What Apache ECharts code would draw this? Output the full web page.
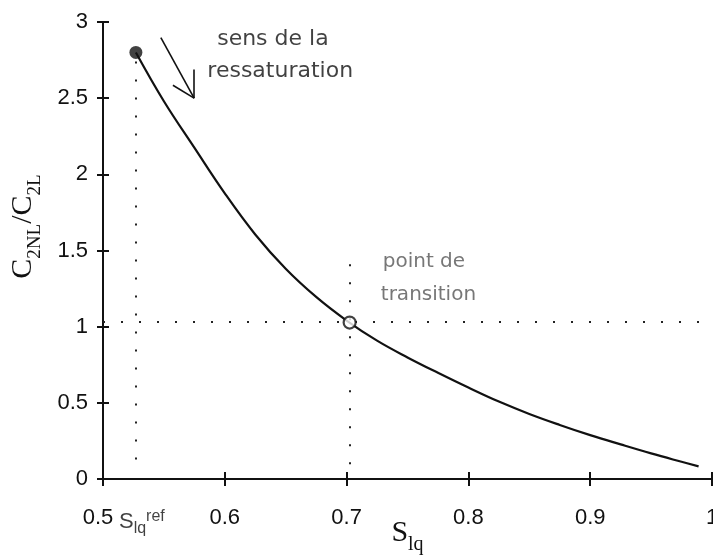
<!DOCTYPE html>
<html>
<head>
<meta charset="utf-8">
<script src="https://cdn.jsdelivr.net/npm/echarts@6/dist/echarts.min.js"></script>
<style>
html,body{margin:0;padding:0;background:#fff;}
#c{width:713px;height:556px;}
</style>
</head>
<body>
<div id="c"></div>
<script>
// ---- data ----
const curveX = [0.527,0.55,0.575,0.60,0.625,0.65,0.675,0.70,0.725,0.75,0.775,0.80,0.825,0.85,0.875,0.90,0.925,0.95,0.975,0.989];
const curveY = [2.80,2.48,2.175,1.875,1.605,1.38,1.195,1.04,0.908,0.798,0.697,0.600,0.508,0.427,0.355,0.288,0.227,0.168,0.113,0.083];
const refPoint = [0.527, 2.80];
const transitionPoint = [0.7025, 1.027];
const xTicks = [0.5, 0.6, 0.7, 0.8, 0.9, 1.0];
const yTicks = [0, 0.5, 1, 1.5, 2, 2.5, 3];
// annotation guides (data units)
const refGuide = [[0.527, 2.74], [0.527, 0.12]];
const transGuideV = [[0.7025, 1.41], [0.7025, 0]];
const transGuideH = [[0.5, 1.03], [1.0, 1.03]];
const arrowShaft = [[0.5475, 2.897], [0.5748, 2.50]];
const arrowHead1 = [[0.5574, 2.585], [0.5748, 2.50]];
const arrowHead2 = [[0.5746, 2.688], [0.5748, 2.50]];
const notes = [
  {text: 'sens de la', pos: [0.6395, 2.885], style: 'big'},
  {text: 'ressaturation', pos: [0.6455, 2.675], style: 'big'},
  {text: 'point de', pos: [0.7635, 1.423], style: 'light'},
  {text: 'transition', pos: [0.7672, 1.212], style: 'light'}
];
const refLabelPos = [0.5131, -0.285];

const chart = echarts.init(document.getElementById('c'), null, {renderer: 'canvas'});
const sans = '"Liberation Sans", Arial, sans-serif';
const serif = '"Liberation Serif", "Times New Roman", serif';
const black = '#111';

const dotted = {type: [2, 16], width: 2, color: '#222'};
const solidThin = {type: 'solid', width: 1.6, color: '#111'};

const option = {
  animation: false,
  backgroundColor: '#fff',
  grid: {left: 103, right: 1, top: 22, bottom: 77, containLabel: false, outerBoundsMode: 'none'},
  xAxis: [{
    type: 'value', min: xTicks[0], max: xTicks[xTicks.length-1], interval: 0.1,
    axisLine: {show: true, onZero: false, lineStyle: {color: black, width: 2}},
    axisTick: {show: true, inside: false, length: 7, lineStyle: {color: black, width: 2}},
    axisLabel: {show: true, margin: 28, fontSize: 22, color: '#111', fontFamily: sans,
      formatter: v => {
        const s = String(Math.round(v*10)/10);
        return v === xTicks[0] ? '{a|' + s + '}' : s;
      },
      rich: {a: {fontSize: 22, fontFamily: sans, color: '#111', padding: [0, 10, 0, 0]}}
    },
    splitLine: {show: false},
    name: '{m|S}{s|lq}',
    nameLocation: 'middle', nameGap: 32, nameMoveOverlap: false,
    nameTextStyle: {padding: [0, 0, 0, 0], rich: {
      m: {fontFamily: serif, fontSize: 30, color: '#111', lineHeight: 44, verticalAlign: 'middle'},
      s: {fontFamily: serif, fontSize: 20, color: '#111', lineHeight: 20, verticalAlign: 'bottom'}
    }}
  }, {
    type: 'value', min: xTicks[0], max: xTicks[xTicks.length-1], interval: 0.1, position: 'bottom',
    axisLine: {show: false}, axisLabel: {show: false}, splitLine: {show: false},
    axisTick: {show: true, inside: true, length: 7, lineStyle: {color: black, width: 2}}
  }],
  yAxis: [{
    type: 'value', min: yTicks[0], max: yTicks[yTicks.length-1], interval: 0.5,
    axisLine: {show: true, onZero: false, lineStyle: {color: black, width: 2}},
    axisTick: {show: true, inside: false, length: 6, lineStyle: {color: black, width: 2}},
    axisLabel: {show: true, margin: 15, fontSize: 22, color: '#111', fontFamily: sans},
    splitLine: {show: false},
    name: '{m|C}{s|2NL}{m|/C}{s|2L}',
    nameLocation: 'middle', nameGap: 58, nameRotate: 90, nameMoveOverlap: false,
    nameTextStyle: {padding: [0, 0, 0, 48], rich: {
      m: {fontFamily: serif, fontSize: 30, color: '#111', lineHeight: 44, verticalAlign: 'middle'},
      s: {fontFamily: serif, fontSize: 19, color: '#111', lineHeight: 20, verticalAlign: 'bottom'}
    }}
  }, {
    type: 'value', min: yTicks[0], max: yTicks[yTicks.length-1], interval: 0.5, position: 'left',
    axisLine: {show: false}, axisLabel: {show: false}, splitLine: {show: false},
    axisTick: {show: true, inside: true, length: 6, lineStyle: {color: black, width: 2}}
  }],
  series: [
    {
      type: 'line', name: 'curve',
      data: curveX.map((x, i) => [x, curveY[i]]),
      smooth: 0.4, showSymbol: false, symbol: 'none',
      lineStyle: {color: '#111', width: 2.2},
      z: 3,
      markLine: {
        silent: true, symbol: ['none', 'none'], animation: false,
        label: {show: false},
        data: [
          [{coord: refGuide[0], lineStyle: dotted}, {coord: refGuide[1]}],
          [{coord: transGuideV[0], lineStyle: dotted}, {coord: transGuideV[1]}],
          [{coord: transGuideH[0], lineStyle: dotted}, {coord: transGuideH[1]}],
          [{coord: arrowShaft[0], lineStyle: solidThin}, {coord: arrowShaft[1]}],
          [{coord: arrowHead1[0], lineStyle: solidThin}, {coord: arrowHead1[1]}],
          [{coord: arrowHead2[0], lineStyle: solidThin}, {coord: arrowHead2[1]}]
        ]
      }
    },
    {
      type: 'scatter', name: 'ref', data: [refPoint], symbol: 'circle', symbolSize: 13,
      itemStyle: {color: '#111'}, z: 5
    },
    {
      type: 'scatter', name: 'transition', data: [transitionPoint], symbol: 'circle', symbolSize: 12,
      itemStyle: {color: '#fff', borderColor: '#111', borderWidth: 2.2}, z: 5
    },
    {
      type: 'scatter', name: 'notes', symbolSize: 0, clip: false, silent: true,
      data: notes.map(n => ({
        value: n.pos,
        label: {
          show: true, position: 'inside', formatter: n.text,
          fontFamily: '"DejaVu Sans", sans-serif',
          fontSize: n.style === 'big' ? 22 : 20,
          color: n.style === 'big' ? '#111' : '#555'
        }
      }))
    },
    {
      type: 'scatter', name: 'reflabel', symbolSize: 0, clip: false, silent: true,
      data: [{value: refLabelPos, label: {
        show: true, position: 'inside', align: 'left',
        formatter: '{m|S}{s|lq}{p|ref}',
        rich: {
          m: {fontFamily: sans, fontSize: 22, color: '#111', lineHeight: 28, verticalAlign: 'middle'},
          s: {fontFamily: sans, fontSize: 16, color: '#111', lineHeight: 16, verticalAlign: 'bottom'},
          p: {fontFamily: sans, fontSize: 16, color: '#111', lineHeight: 16, verticalAlign: 'top'}
        }
      }}]
    }
  ]
};
chart.setOption(option);
</script>
</body>
</html>
